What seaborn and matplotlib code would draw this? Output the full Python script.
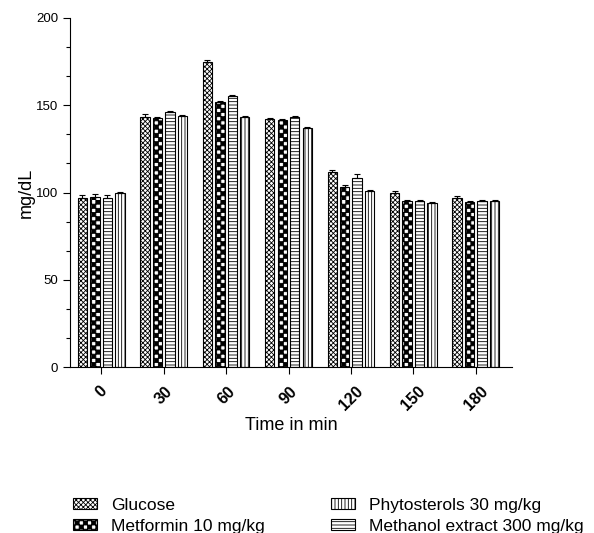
import matplotlib
matplotlib.use("Agg")
import matplotlib.pyplot as plt
import matplotlib.hatch as mhatch
from matplotlib.path import Path
from matplotlib.ticker import MultipleLocator
import pandas as pd
import numpy as np
import seaborn as sb

# data
times = ["0", "30", "60", "90", "120", "150", "180"]
groups = ["Glucose", "Metformin 10 mg/kg", "Methanol extract 300 mg/kg", "Phytosterols 30 mg/kg"]
glucose = [97, 143.5, 174.5, 142, 112, 100, 97]
metformin = [97.5, 142.5, 152, 141.5, 103, 95, 94.5]
methanol = [97, 146, 155.5, 143, 108.5, 95, 95]
phyto = [99.5, 144, 143.5, 137, 101, 94, 95]
glucose_err = [1.5, 1.5, 1.5, 0.8, 1, 1, 1]
metformin_err = [1.5, 0.6, 0.6, 0.8, 1.5, 0.5, 0.5]
methanol_err = [1.5, 0.6, 0.6, 1, 2, 0.8, 0.6]
phyto_err = [0.6, 0.6, 0.6, 0.6, 0.6, 0.6, 0.6]
hatches = ["xxxxxxx", "****", "-----", "|||||"]


# checkerboard hatch, takes the place of the star hatch ('*')
class CheckerHatch(mhatch.HatchPatternBase):
    def __init__(self, hatch, density):
        self.n = hatch.count('*') * density
        self.cells = [(i, j) for i in range(self.n) for j in range(self.n) if (i + j) % 2 == 0]
        self.num_vertices = len(self.cells) * 5

    def set_vertices_and_codes(self, vertices, codes):
        s = 1.0 / self.n
        k = 0
        for i, j in self.cells:
            x, y = i * s, j * s
            vertices[k:k + 5] = [(x, y), (x + s, y), (x + s, y + s), (x, y + s), (x, y)]
            codes[k:k + 5] = [Path.MOVETO, Path.LINETO, Path.LINETO, Path.LINETO, Path.CLOSEPOLY]
            k += 5


mhatch._hatch_types = [t for t in mhatch._hatch_types if t is not mhatch.Stars] + [CheckerHatch]

sb.set_style("ticks")
plt.rcParams['font.family'] = ['Liberation Sans', 'DejaVu Sans']
plt.rcParams['hatch.linewidth'] = 0.6
plt.rcParams['hatch.color'] = 'black'
plt.rcParams['text.color'] = 'black'
plt.rcParams['axes.labelcolor'] = 'black'
plt.rcParams['xtick.color'] = 'black'
plt.rcParams['ytick.color'] = 'black'
plt.rcParams['axes.edgecolor'] = 'black'

values = [glucose, metformin, methanol, phyto]
errors = [glucose_err, metformin_err, methanol_err, phyto_err]
rows = []
for g, vals, errs in zip(groups, values, errors):
    for t, v, e in zip(times, vals, errs):
        rows.append({"time": t, "group": g, "value": v, "err": e})
df = pd.DataFrame(rows)

fig = plt.figure(figsize=(5.94, 5.33), dpi=100)
ax = fig.add_axes([70 / 594, 1 - 367 / 533, 442 / 594, 349 / 533])

sb.barplot(data=df, x="time", y="value", hue="group", order=times, hue_order=groups,
           palette=["white"] * 4, edgecolor="black", linewidth=0.8,
           width=0.8, gap=0.25, errorbar=None, ax=ax)

for cont, h, errs in zip(ax.containers, hatches, errors):
    xs, ys = [], []
    for bar in cont:
        bar.set_hatch(h)
        xs.append(bar.get_x() + bar.get_width() / 2)
        ys.append(bar.get_height())
    ax.errorbar(xs, ys, yerr=[np.zeros(len(errs)), errs], fmt="none",
                ecolor="black", elinewidth=0.8, capsize=2.5, capthick=0.8, zorder=1)

ax.set_ylim(0, 200)
ax.set_xlim(-0.5, 6.58)
ax.yaxis.set_major_locator(MultipleLocator(50))
ax.yaxis.set_minor_locator(MultipleLocator(50 / 3))
ax.tick_params(axis="y", which="major", length=5, width=0.8, labelsize=9.5)
ax.tick_params(axis="y", which="minor", length=3, width=0.8)
ax.tick_params(axis="x", length=5, width=0.8, labelsize=11.5, pad=7)
for lab in ax.get_xticklabels():
    lab.set_rotation(45)
    lab.set_fontweight("bold")
    lab.set_ha("center")
    lab.set_va("top")
for s in ["top", "right"]:
    ax.spines[s].set_visible(False)
for s in ["left", "bottom"]:
    ax.spines[s].set_linewidth(0.8)

ax.set_xlabel("Time in min", fontsize=13, labelpad=3)
ax.set_ylabel("mg/dL", fontsize=13, labelpad=1)

handles, labels = ax.get_legend_handles_labels()
ax.get_legend().remove()
for hd, h in zip(handles, hatches):
    hd.set_hatch(h)
    hd.set_edgecolor("black")
order = [0, 1, 3, 2]
fig.legend([handles[i] for i in order], [labels[i] for i in order],
           loc="center left", bbox_to_anchor=(64 / 594, 0.0325), ncol=2, frameon=False,
           fontsize=12.5, handlelength=1.4, handleheight=0.6, handletextpad=0.8,
           columnspacing=3.8, labelspacing=0.35, borderpad=0)

fig.savefig("out.png", dpi=100)
